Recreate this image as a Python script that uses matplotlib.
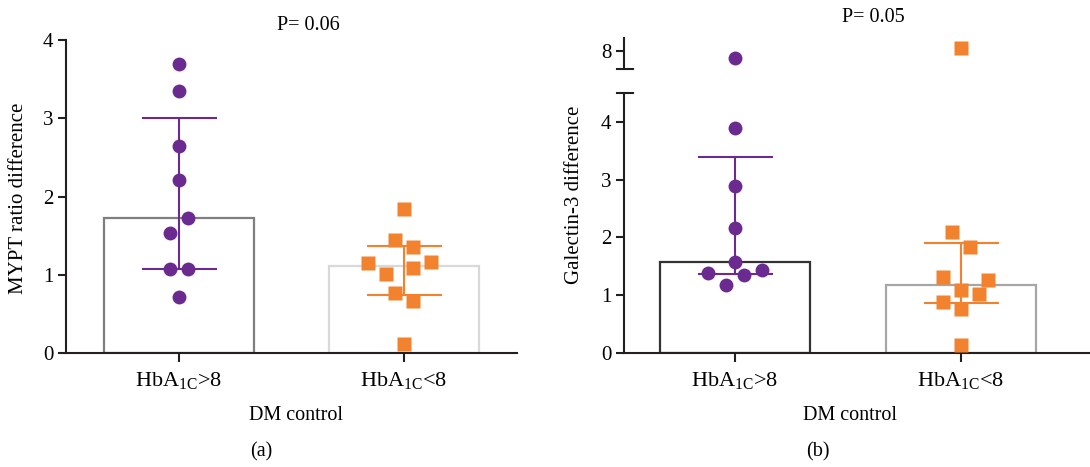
import matplotlib
matplotlib.use("Agg")
from matplotlib import pyplot as plt

# Data
groups = ["HbA$_{\\mathregular{1C}}$>8", "HbA$_{\\mathregular{1C}}$<8"]

# (a) MYPT ratio difference
mypt_bar = [1.72, 1.11]
mypt_err_low = [1.07, 0.74]
mypt_err_high = [3.00, 1.37]
mypt_hi = [3.69, 3.35, 2.65, 2.21, 1.72, 1.53, 1.07, 1.07, 0.71]
mypt_lo = [1.84, 1.44, 1.36, 1.15, 1.16, 1.01, 1.08, 0.77, 0.67, 0.12]
mypt_pvalue = "P= 0.06"

# (b) Galectin-3 difference
gal_bar = [1.58, 1.18]
gal_err_low = [1.37, 0.86]
gal_err_high = [3.40, 1.90]
gal_hi = [7.83, 3.90, 2.89, 2.16, 1.58, 1.38, 1.44, 1.35, 1.18]
gal_lo = [8.07, 2.10, 1.84, 1.32, 1.27, 1.09, 1.02, 0.89, 0.76, 0.14]
gal_pvalue = "P= 0.05"

# horizontal spread of the dots (beeswarm layout)
mypt_hi_dx = [0, 0, 0, 0, 0.04, -0.04, -0.04, 0.04, 0]
mypt_lo_dx = [0, -0.04, 0.04, -0.16, 0.12, -0.08, 0.04, -0.04, 0.04, 0]
gal_hi_dx = [0, 0, 0, 0, 0, -0.12, 0.12, 0.04, -0.04]
gal_lo_dx = [0, -0.04, 0.04, -0.08, 0.12, 0, 0.08, -0.08, 0, 0]

PURPLE = "#6b2a8f"
ORANGE = "#f3822f"
AXC = "#231f20"
FONT = "Liberation Serif"
FS = 14.5

plt.rcParams["font.family"] = FONT
plt.rcParams["mathtext.fontset"] = "custom"
plt.rcParams["mathtext.rm"] = FONT

W, H = 1090, 467
fig = plt.figure(figsize=(W / 100, H / 100), dpi=100)


def box(l, t, r, b):
    # pixel box -> figure axes rect
    return [l / W, 1 - b / H, (r - l) / W, (b - t) / H]


def style_axis(ax, bottom=True):
    for s in ["top", "right"]:
        ax.spines[s].set_visible(False)
    ax.spines["left"].set_linewidth(1.5)
    ax.spines["left"].set_color(AXC)
    ax.spines["bottom"].set_linewidth(1.5)
    ax.spines["bottom"].set_color(AXC)
    if not bottom:
        ax.spines["bottom"].set_visible(False)
    ax.tick_params(axis="y", length=6, width=1.5, color=AXC, labelsize=15, pad=3)
    ax.tick_params(axis="x", length=6.5, width=1.5, color=AXC, labelsize=16, pad=6)


def draw_group(ax, bars, lo, hi, pts_hi, pts_lo, dx_hi, dx_lo, edges, xlim, clip=False):
    xs = [0, 1]
    ax.bar(xs, bars, width=0.665, color="white", edgecolor=edges, linewidth=1.6, zorder=1)
    for i, c in enumerate([PURPLE, ORANGE]):
        ax.errorbar(xs[i], bars[i], yerr=[[bars[i] - lo[i]], [hi[i] - bars[i]]],
                    fmt="none", ecolor=c, elinewidth=1.5, capsize=27, capthick=1.5, zorder=2)
    ax.plot([0 + d for d in dx_hi], pts_hi, "o", color=PURPLE, ms=10, mec="none",
            zorder=3, clip_on=clip)
    ax.plot([1 + d for d in dx_lo], pts_lo, "s", color=ORANGE, ms=9.5, mec="none",
            zorder=3, clip_on=clip)
    ax.set_xlim(*xlim)


# ---- panel (a)
ax1 = fig.add_axes(box(66, 40, 517, 353))
draw_group(ax1, mypt_bar, mypt_err_low, mypt_err_high, mypt_hi, mypt_lo,
           mypt_hi_dx, mypt_lo_dx, ["#7f7f7f", "#d9d9d9"], (-0.502, 1.502))
ax1.set_ylim(0, 4)
ax1.set_yticks([0, 1, 2, 3, 4])
ax1.set_xticks([0, 1])
ax1.set_xticklabels(groups)
style_axis(ax1)

fig.text(19 / W, 1 - 198 / H, "MYPT ratio difference", rotation=90,
         ha="center", va="center", fontsize=15)
fig.text(308 / W, 1 - 25 / H, mypt_pvalue, ha="center", va="center", fontsize=FS)
fig.text(296 / W, 1 - 416 / H, "DM control", ha="center", va="center", fontsize=FS)
fig.text(261 / W, 1 - 452 / H, "(a)", ha="center", va="center", fontsize=FS)

# ---- panel (b), broken y axis
xlim_b = (-0.492, 1.573)
ax2 = fig.add_axes(box(624, 93, 1090, 353))
ax3 = fig.add_axes(box(624, 38, 1090, 69), sharex=ax2)
for ax in (ax2, ax3):
    draw_group(ax, gal_bar, gal_err_low, gal_err_high, gal_hi, gal_lo,
               gal_hi_dx, gal_lo_dx, ["#333333", "#a6a6a6"], xlim_b, clip=True)
ax2.set_ylim(0, 4.5)
ax2.set_yticks([0, 1, 2, 3, 4])
ax2.set_xticks([0, 1])
ax2.set_xticklabels(groups)
style_axis(ax2)

ax3.set_ylim(7.6, 8.278)
ax3.set_yticks([8])
style_axis(ax3, bottom=False)
ax3.tick_params(axis="x", bottom=False, labelbottom=False)
ax3.patch.set_visible(False)

# break marks
bw = 466.0
ax3.plot([-7 / bw, 9 / bw], [0, 0], transform=ax3.transAxes, color=AXC, lw=1.5, clip_on=False)
ax2.plot([-7 / bw, 9 / bw], [1, 1], transform=ax2.transAxes, color=AXC, lw=1.5, clip_on=False)

fig.text(575 / W, 1 - 195 / H, "Galectin-3 difference", rotation=90,
         ha="center", va="center", fontsize=15)
fig.text(873 / W, 1 - 18 / H, gal_pvalue, ha="center", va="center", fontsize=FS)
fig.text(850 / W, 1 - 416 / H, "DM control", ha="center", va="center", fontsize=FS)
fig.text(818 / W, 1 - 452 / H, "(b)", ha="center", va="center", fontsize=FS)

fig.savefig("out.png", dpi=100)
